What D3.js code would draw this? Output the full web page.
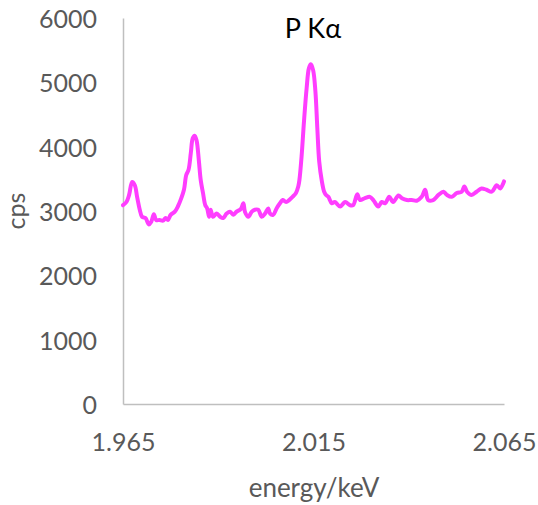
<!DOCTYPE html>
<html>
<head>
<meta charset="utf-8">
<script src="https://cdn.jsdelivr.net/npm/d3@7"></script>
<style>
  html, body { margin: 0; padding: 0; background: #ffffff; }
  svg { display: block; }
  text { font-family: Lato, "Open Sans", sans-serif; }
</style>
</head>
<body>
<svg id="chart" width="538" height="505"></svg>
<script>
// ---- data ----
const title = "P Kα";
const xLabel = "energy/keV";
const yLabel = "cps";
const xTicks = [1.965, 2.015, 2.065];
const yTicks = [0, 1000, 2000, 3000, 4000, 5000, 6000];
const energy = [
  1.9650, 1.9659, 1.9666, 1.9674, 1.9681, 1.9687, 1.9694, 1.9700, 1.9709, 1.9718,
  1.9724, 1.9731, 1.9737, 1.9746, 1.9755, 1.9762, 1.9768, 1.9775, 1.9786, 1.9794,
  1.9803, 1.9810, 1.9816, 1.9822, 1.9828, 1.9833, 1.9838, 1.9843, 1.9849, 1.9854,
  1.9860, 1.9866, 1.9871, 1.9876, 1.9880, 1.9886, 1.9896, 1.9905, 1.9913, 1.9922,
  1.9931, 1.9940, 1.9948, 1.9959, 1.9966, 1.9970, 1.9979, 1.9988, 1.9996, 2.0005,
  2.0014, 2.0023, 2.0031, 2.0036, 2.0044, 2.0053, 2.0062, 2.0069, 2.0078, 2.0086,
  2.0095, 2.0104, 2.0110, 2.0113, 2.0119, 2.0125, 2.0132, 2.0138, 2.0143, 2.0149,
  2.0155, 2.0160, 2.0165, 2.0172, 2.0178, 2.0183, 2.0189, 2.0198, 2.0206, 2.0220,
  2.0233, 2.0246, 2.0254, 2.0265, 2.0272, 2.0285, 2.0298, 2.0307, 2.0320, 2.0329,
  2.0338, 2.0349, 2.0359, 2.0373, 2.0382, 2.0395, 2.0408, 2.0421, 2.0434, 2.0443,
  2.0451, 2.0464, 2.0478, 2.0491, 2.0500, 2.0513, 2.0526, 2.0539, 2.0546, 2.0553,
  2.0565, 2.0578, 2.0591, 2.0604, 2.0618, 2.0631, 2.0640, 2.0648, 2.0650
];
const cps = [
  3090, 3140, 3250, 3450, 3400, 3220, 3020, 2910, 2890, 2790,
  2830, 2950, 2860, 2860, 2850, 2890, 2860, 2940, 2990, 3070,
  3200, 3330, 3560, 3640, 3900, 4130, 4170, 4100, 3790, 3480,
  3280, 3090, 3040, 2910, 3020, 2910, 2960, 2910, 2890, 2960,
  2990, 2940, 2990, 3030, 3120, 2990, 2910, 2990, 3020, 3020,
  2910, 2960, 3040, 2960, 2940, 3040, 3120, 3170, 3140, 3170,
  3220, 3280, 3380, 3480, 3870, 4390, 4910, 5220, 5280, 5190,
  4860, 4290, 3770, 3460, 3300, 3250, 3220, 3120, 3140, 3070,
  3140, 3090, 3090, 3260, 3170, 3200, 3220, 3170, 3070, 3140,
  3120, 3220, 3140, 3240, 3200, 3170, 3170, 3160, 3220, 3330,
  3170, 3170, 3250, 3300, 3250, 3220, 3280, 3300, 3380, 3300,
  3250, 3300, 3350, 3330, 3300, 3400, 3350, 3430, 3460
];

// ---- layout ----
const svg = d3.select("#chart");
const plot = { left: 123, right: 504, top: 18, bottom: 404 };
const x = d3.scaleLinear().domain([1.965, 2.065]).range([plot.left, plot.right]);
const y = d3.scaleLinear().domain([0, 6000]).range([plot.bottom, plot.top]);

const axisColor = "#BFBFBF";
const labelColor = "#595959";
const fontSize = 25;

// y axis
const gy = svg.append("g")
  .attr("transform", `translate(${plot.left},0)`)
  .call(d3.axisLeft(y).tickValues(yTicks).tickSize(0).tickSizeOuter(0).tickPadding(26)
    .tickFormat(d3.format("d")));
gy.select(".domain").attr("stroke", axisColor).attr("stroke-width", 1.5);
gy.selectAll("text")
  .attr("fill", labelColor)
  .attr("font-size", fontSize)
  .attr("font-family", "Lato, 'Open Sans', sans-serif")
  .attr("dy", null)
  .attr("y", 9.5);

// x axis
const gx = svg.append("g")
  .attr("transform", `translate(0,${plot.bottom})`)
  .call(d3.axisBottom(x).tickValues(xTicks).tickSize(0).tickSizeOuter(0)
    .tickFormat(d3.format(".3f")));
gx.select(".domain").attr("stroke", axisColor).attr("stroke-width", 1.5);
gx.selectAll("text")
  .attr("fill", labelColor)
  .attr("font-size", fontSize)
  .attr("font-family", "Lato, 'Open Sans', sans-serif")
  .attr("dy", null)
  .attr("y", 47);

// line
const pts = energy.map((e, i) => [e, cps[i]]);
const line = d3.line()
  .x(d => x(d[0]))
  .y(d => y(d[1]))
  .curve(d3.curveCatmullRom.alpha(0.5));
svg.append("path")
  .datum(pts)
  .attr("fill", "none")
  .attr("stroke", "#FF3DFF")
  .attr("stroke-width", 4)
  .attr("stroke-linejoin", "round")
  .attr("stroke-linecap", "round")
  .attr("d", line);

// title
svg.append("text")
  .attr("x", 313).attr("y", 38)
  .attr("text-anchor", "middle")
  .attr("font-size", 27)
  .attr("fill", "#000000")
  .text(title);

// x label
svg.append("text")
  .attr("x", 314).attr("y", 497)
  .attr("text-anchor", "middle")
  .attr("font-size", 26)
  .attr("fill", labelColor)
  .text(xLabel);

// y label
svg.append("text")
  .attr("transform", `translate(25,${(plot.top + plot.bottom) / 2}) rotate(-90)`)
  .attr("text-anchor", "middle")
  .attr("font-size", fontSize)
  .attr("fill", labelColor)
  .text(yLabel);
</script>
</body>
</html>
